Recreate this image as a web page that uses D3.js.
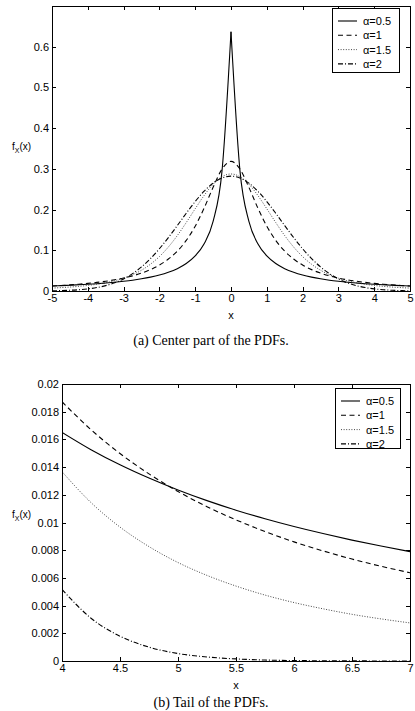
<!DOCTYPE html>
<html lang="en">
<head>
<meta charset="UTF-8">
<title>Symmetric stable PDFs</title>
<script src="https://cdnjs.cloudflare.com/ajax/libs/d3/7.8.5/d3.min.js"></script>
<style>
    body {
        margin: 0;
        background: #fff;
    }
    .axis path {
        display: none;
    }
    .axis line {
        stroke: #000;
        shape-rendering: crispEdges;
    }
    .axis text, .lbl {
        font-family: "Liberation Sans", Arial, sans-serif;
        font-size: 11px;
        fill: #000;
    }
    .caption {
        font-family: "Liberation Serif", "DejaVu Serif", serif;
        font-size: 14px;
        fill: #000;
    }
</style>
</head>
<body>
<script type="text/javascript">
    var names = ["α=0.5", "α=1", "α=1.5", "α=2"];
    var dashes = [null, "5,3.5", "1,1.6", "5,2,1,2"];

    // (a) center part, x from -5 to 5
    var xCenter = [-5, -4.75, -4.5, -4.25, -4, -3.75, -3.5, -3.25, -3, -2.75, -2.5, -2.25, -2, -1.75, -1.5, -1.25,
        -1, -0.75, -0.5, -0.25, 0, 0.25, 0.5, 0.75, 1, 1.25, 1.5, 1.75, 2, 2.25, 2.5, 2.75, 3, 3.25, 3.5, 3.75,
        4, 4.25, 4.5, 4.75, 5];
    var center05 = [0.0123, 0.0132, 0.0142, 0.0153, 0.0165, 0.0179, 0.0196, 0.0215, 0.0238, 0.0265, 0.0299, 0.0340,
        0.0391, 0.0459, 0.0549, 0.0675, 0.0861, 0.1161, 0.1708, 0.2956, 0.6366, 0.2956, 0.1708, 0.1161, 0.0861,
        0.0675, 0.0549, 0.0459, 0.0391, 0.0340, 0.0299, 0.0265, 0.0238, 0.0215, 0.0196, 0.0179, 0.0165, 0.0153,
        0.0142, 0.0132, 0.0123];
    var center1 = [0.0122, 0.0135, 0.0150, 0.0167, 0.0187, 0.0211, 0.0240, 0.0275, 0.0318, 0.0372, 0.0439, 0.0525,
        0.0637, 0.0785, 0.0979, 0.1242, 0.1592, 0.2037, 0.2546, 0.2996, 0.3183, 0.2996, 0.2546, 0.2037, 0.1592,
        0.1242, 0.0979, 0.0785, 0.0637, 0.0525, 0.0439, 0.0372, 0.0318, 0.0275, 0.0240, 0.0211, 0.0187, 0.0167,
        0.0150, 0.0135, 0.0122];
    var center15 = [0.0071, 0.0083, 0.0097, 0.0114, 0.0137, 0.0165, 0.0203, 0.0252, 0.0315, 0.0400, 0.0511, 0.0658,
        0.0845, 0.1080, 0.1361, 0.1681, 0.2020, 0.2347, 0.2623, 0.2808, 0.2874, 0.2808, 0.2623, 0.2347, 0.2020,
        0.1681, 0.1361, 0.1080, 0.0845, 0.0658, 0.0511, 0.0400, 0.0315, 0.0252, 0.0203, 0.0165, 0.0137, 0.0114,
        0.0097, 0.0083, 0.0071];
    var center2 = [0.0005, 0.0010, 0.0018, 0.0031, 0.0052, 0.0084, 0.0132, 0.0201, 0.0297, 0.0426, 0.0591, 0.0796,
        0.1038, 0.1312, 0.1607, 0.1909, 0.2197, 0.2451, 0.2650, 0.2777, 0.2821, 0.2777, 0.2650, 0.2451, 0.2197,
        0.1909, 0.1607, 0.1312, 0.1038, 0.0796, 0.0591, 0.0426, 0.0297, 0.0201, 0.0132, 0.0084, 0.0052, 0.0031,
        0.0018, 0.0010, 0.0005];
    var centerXTicks = [-5, -4, -3, -2, -1, 0, 1, 2, 3, 4, 5];
    var centerYTicks = [0, 0.1, 0.2, 0.3, 0.4, 0.5, 0.6];

    // (b) tail, x from 4 to 7
    var xTail = [4, 4.25, 4.5, 4.75, 5, 5.25, 5.5, 5.75, 6, 6.25, 6.5, 6.75, 7];
    var tail05 = [0.01651, 0.01526, 0.01417, 0.01321, 0.01235, 0.01158, 0.01089, 0.01027, 0.00971, 0.00920, 0.00873,
        0.00830, 0.00790];
    var tail1 = [0.01872, 0.01670, 0.01498, 0.01351, 0.01224, 0.01114, 0.01019, 0.00935, 0.00860, 0.00795, 0.00736,
        0.00684, 0.00637];
    var tail15 = [0.01367, 0.01144, 0.00967, 0.00826, 0.00711, 0.00618, 0.00541, 0.00476, 0.00422, 0.00377, 0.00337,
        0.00304, 0.00275];
    var tail2 = [0.00517, 0.00309, 0.00179, 0.00100, 0.00054, 0.00029, 0.00015, 0.00007, 0.00003, 0.00002, 0.00001,
        0.000003, 0.000001];
    var tailXTicks = [4, 4.5, 5, 5.5, 6, 6.5, 7];
    var tailYTicks = [0, 0.002, 0.004, 0.006, 0.008, 0.01, 0.012, 0.014, 0.016, 0.018, 0.02];

    var svg = d3.select("body")
        .append("svg")
        .attr("width", 415)
        .attr("height", 711);

    function drawPanel(p) {
        var xScale = d3.scaleLinear().domain(p.xDomain).range([p.left, p.right]);
        var yScale = d3.scaleLinear().domain(p.yDomain).range([p.bottom, p.top]);
        var fmt = function (d) { return String(d); };

        svg.append("clipPath").attr("id", p.id)
            .append("rect")
            .attr("x", p.left).attr("y", p.top)
            .attr("width", p.right - p.left).attr("height", p.bottom - p.top);

        // MATLAB style: ticks inside on every side
        svg.append("g").attr("class", "axis")
            .attr("transform", "translate(0," + p.bottom + ")")
            .call(d3.axisBottom(xScale).tickValues(p.xTicks).tickFormat(fmt)
                .tickSizeInner(-4).tickSizeOuter(0).tickPadding(3));
        svg.append("g").attr("class", "axis")
            .attr("transform", "translate(0," + p.top + ")")
            .call(d3.axisTop(xScale).tickValues(p.xTicks).tickFormat("")
                .tickSizeInner(-4).tickSizeOuter(0));
        svg.append("g").attr("class", "axis")
            .attr("transform", "translate(" + p.left + ",0)")
            .call(d3.axisLeft(yScale).tickValues(p.yTicks).tickFormat(fmt)
                .tickSizeInner(-4).tickSizeOuter(0).tickPadding(3));
        svg.append("g").attr("class", "axis")
            .attr("transform", "translate(" + p.right + ",0)")
            .call(d3.axisRight(yScale).tickValues(p.yTicks).tickFormat("")
                .tickSizeInner(-4).tickSizeOuter(0));

        var line = d3.line()
            .x(function (d) { return xScale(d[0]); })
            .y(function (d) { return yScale(d[1]); })
            .curve(d3.curveMonotoneX);

        p.series.forEach(function (vals, i) {
            var pts = p.xs.map(function (x, j) { return [x, vals[j]]; });
            var parts = [pts];
            if (p.cusp && i === 0) {
                // keep the sharp peak of alpha=0.5
                var m = d3.maxIndex(vals);
                parts = [pts.slice(0, m + 1), pts.slice(m)];
            }
            parts.forEach(function (part) {
                svg.append("path")
                    .attr("d", line(part))
                    .attr("clip-path", "url(#" + p.id + ")")
                    .attr("fill", "none")
                    .attr("stroke", i === 2 ? "#333" : "#000")
                    .attr("stroke-width", i === 2 ? 0.9 : 1.1)
                    .attr("stroke-dasharray", dashes[i]);
            });
        });

        svg.append("rect")
            .attr("x", p.left + 0.5).attr("y", p.top + 0.5)
            .attr("width", p.right - p.left).attr("height", p.bottom - p.top)
            .attr("fill", "none").attr("stroke", "#000").attr("stroke-width", 1);

        // legend
        var lg = svg.append("g");
        lg.append("rect")
            .attr("x", p.legend[0] + 0.5).attr("y", p.legend[1] + 0.5)
            .attr("width", p.legend[2]).attr("height", p.legend[3])
            .attr("fill", "#fff").attr("stroke", "#000");
        names.forEach(function (n, i) {
            var y = p.legend[1] + 13 + i * 14.3;
            lg.append("line")
                .attr("x1", p.legend[0] + 6).attr("x2", p.legend[0] + 25)
                .attr("y1", y).attr("y2", y)
                .attr("stroke", i === 2 ? "#333" : "#000")
                .attr("stroke-width", i === 2 ? 0.9 : 1.1)
                .attr("stroke-dasharray", dashes[i]);
            lg.append("text").attr("class", "lbl")
                .attr("x", p.legend[0] + 31).attr("y", y + 4)
                .text(n);
        });

        // axis labels
        var yl = svg.append("text").attr("class", "lbl")
            .attr("x", 12).attr("y", p.ylabelY)
            .style("font-size", "10px");
        yl.append("tspan").text("f");
        yl.append("tspan").attr("dy", 3).style("font-size", "7px").text("X");
        yl.append("tspan").attr("dy", -3).text("(x)");

        svg.append("text").attr("class", "lbl")
            .attr("x", (p.left + p.right) / 2).attr("y", p.bottom + 28)
            .attr("text-anchor", "middle")
            .text("x");

        svg.append("text").attr("class", "caption")
            .attr("x", 211).attr("y", p.captionY)
            .attr("text-anchor", "middle")
            .text(p.caption);
    }

    drawPanel({
        id: "clipA", left: 52, right: 410, top: 6, bottom: 291,
        xDomain: [-5, 5], yDomain: [0, 0.7],
        xTicks: centerXTicks, yTicks: centerYTicks,
        xs: xCenter, series: [center05, center1, center15, center2], cusp: true,
        legend: [332, 8, 67, 64], ylabelY: 150,
        caption: "(a) Center part of the PDFs.", captionY: 345
    });

    drawPanel({
        id: "clipB", left: 62, right: 410, top: 384, bottom: 661,
        xDomain: [4, 7], yDomain: [0, 0.02],
        xTicks: tailXTicks, yTicks: tailYTicks,
        xs: xTail, series: [tail05, tail1, tail15, tail2], cusp: false,
        legend: [335, 388, 65, 60], ylabelY: 518,
        caption: "(b) Tail of the PDFs.", captionY: 707
    });
</script>
</body>
</html>
